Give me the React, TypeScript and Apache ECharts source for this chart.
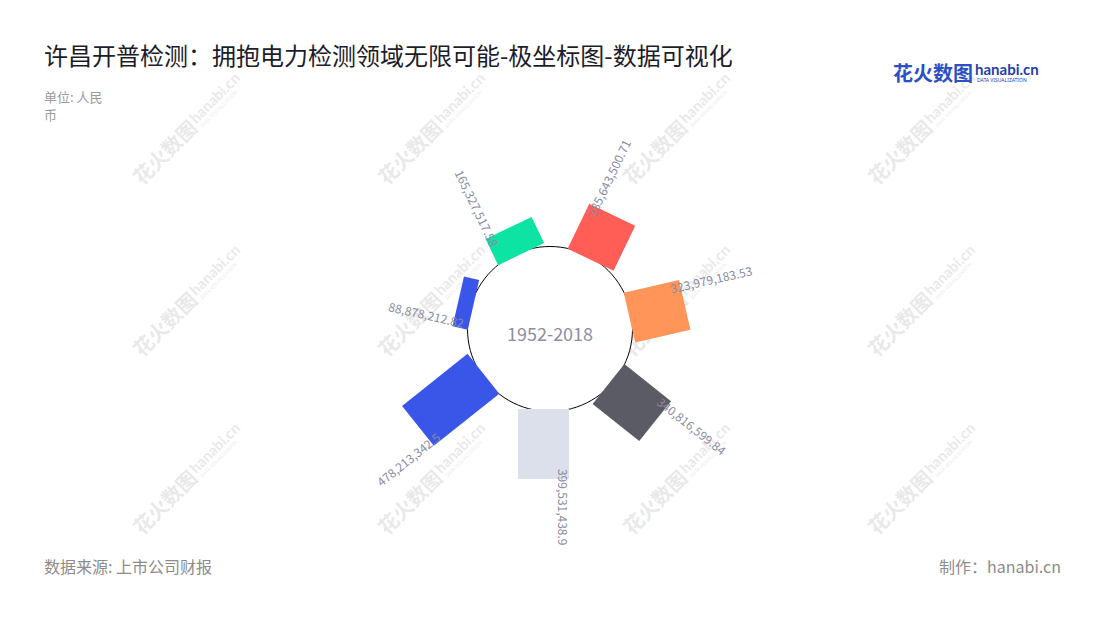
import React, { useEffect, useRef } from 'react';
import * as echarts from 'echarts';

const TITLE = '许昌开普检测：拥抱电力检测领域无限可能-极坐标图-数据可视化';
const UNIT = '单位: 人民币';
const SOURCE = '数据来源: 上市公司财报';
const MAKER = '制作：hanabi.cn';
const CENTER_LABEL = '1952-2018';

const categories = ['项目1', '项目2', '项目3', '项目4', '项目5', '项目6', '项目7'];
const values = [285643500.71, 323979183.53, 340816599.84, 399531438.9, 478213342.5, 88878212.82, 165327517.58];
const colors = ['#FF5E57', '#FF9559', '#5B5B66', '#DCE0EA', '#3A56E9', '#3A56E9', '#0DE3A3'];
const radiusMax = 600000000;

const FONT = '"Noto Sans CJK SC", "Noto Sans", sans-serif';
const LABEL_COLOR = '#8a8ba0';

function logoGroup(x: number, y: number, rotation: number, watermark: boolean, z: number) {
  const c1 = watermark ? '#d6d6d6' : '#2b4fc4';
  const c2 = watermark ? '#d6d6d6' : '#1f3fae';
  const opacity = watermark ? 0.55 : 1;
  return {
    type: 'group',
    x,
    y,
    rotation,
    z,
    silent: true,
    children: [
      {
        type: 'text',
        x: 0,
        y: 0,
        style: { text: '花火数图', fontSize: 20, fontWeight: 'bold', fontFamily: FONT, fill: c1, opacity, verticalAlign: 'middle', align: 'left' },
      },
      {
        type: 'text',
        x: 82,
        y: -3,
        style: { text: 'hanabi.cn', fontSize: 15, fontWeight: 'bold', fontFamily: 'Lato, "Noto Sans", sans-serif', fill: c2, opacity, verticalAlign: 'middle', align: 'left' },
      },
      {
        type: 'text',
        x: 84,
        y: 8,
        style: { text: 'DATA VISUALIZATION', fontSize: 5, fontFamily: '"Noto Sans", sans-serif', fill: c2, opacity, verticalAlign: 'middle', align: 'left' },
      },
    ],
  };
}

export default function App() {
  const ref = useRef<HTMLDivElement>(null);

  useEffect(() => {
    document.body.style.margin = '0';
    if (!ref.current) return;
    const chart = echarts.init(ref.current, undefined, { renderer: 'svg' });

    const watermarks: any[] = [];
    const wx = [136, 381, 626, 871];
    const wy = [180, 352, 530];
    wy.forEach((yy) => wx.forEach((xx) => watermarks.push(logoGroup(xx, yy, Math.PI / 4, true, 0))));

    const option: any = {
      animation: false,
      backgroundColor: '#ffffff',
      title: [
        { text: TITLE, left: 44, top: 42, padding: 0, textStyle: { fontSize: 24, fontWeight: 'normal', color: '#1c1c2b', fontFamily: FONT } },
        { text: UNIT, left: 44, top: 87, padding: 0, textStyle: { fontSize: 13, fontWeight: 'normal', color: '#9a9a9a', fontFamily: FONT, width: 68, overflow: 'break', lineHeight: 18 } },
        { text: SOURCE, left: 44, top: 558, padding: 0, textStyle: { fontSize: 16, fontWeight: 'normal', color: '#8c8c8c', fontFamily: FONT } },
        { text: MAKER, right: 39, top: 558, padding: 0, textStyle: { fontSize: 16, fontWeight: 'normal', color: '#8c8c8c', fontFamily: FONT } },
      ],
      polar: { center: [550, 329], radius: [80, 185] },
      radiusAxis: {
        type: 'value',
        min: 0,
        max: radiusMax,
        axisLine: { show: false },
        axisTick: { show: false },
        axisLabel: { show: false },
        splitLine: { show: false },
      },
      angleAxis: {
        type: 'category',
        data: categories,
        startAngle: 90,
        clockwise: true,
        axisLine: { show: false },
        axisTick: { show: false },
        axisLabel: { show: false },
        splitLine: { show: false },
      },
      graphic: [
        ...watermarks,
        logoGroup(893, 72, 0, false, 10),
        {
          type: 'circle',
          z: 1,
          shape: { cx: 550, cy: 329, r: 82.5 },
          style: { fill: '#ffffff', stroke: '#000000', lineWidth: 1 },
        },
        {
          type: 'text',
          z: 5,
          x: 550,
          y: 333,
          style: { text: CENTER_LABEL, fontSize: 18, fontFamily: FONT, fill: '#8e8ea3', align: 'center', verticalAlign: 'middle' },
        },
      ],
      series: [
        {
          type: 'custom',
          coordinateSystem: 'polar',
          z: 3,
          data: values.map((v, i) => [v, i]),
          encode: { radius: 0, angle: 1 },
          renderItem: (params: any, api: any) => {
            const cs = params.coordSys;
            const idx = api.value(1);
            const v = api.value(0);
            const p0 = api.coord([0, idx]);
            const p1 = api.coord([v, idx]);
            const th = Math.atan2(-(p0[1] - cs.cy), p0[0] - cs.cx);
            const L = Math.hypot(p1[0] - p0[0], p1[1] - p0[1]);
            const ux = Math.cos(th), uy = -Math.sin(th);
            const vx = Math.sin(th), vy = Math.cos(th);
            const along = L - 10;
            const side = -13;
            const lx = p0[0] + along * ux + side * vx;
            const ly = p0[1] + along * uy + side * vy;
            const flip = Math.cos(th) < -0.01;
            const text = values[idx].toLocaleString('en-US', { maximumFractionDigits: 2 });
            return {
              type: 'group',
              children: [
                {
                  type: 'rect',
                  x: p0[0],
                  y: p0[1],
                  rotation: th,
                  shape: { x: 0, y: -19, width: L, height: 51 },
                  style: { fill: colors[idx] },
                },
                {
                  type: 'text',
                  x: lx,
                  y: ly,
                  rotation: flip ? th + Math.PI : th,
                  style: {
                    text,
                    fill: LABEL_COLOR,
                    fontSize: 12,
                    fontFamily: FONT,
                    align: flip ? 'right' : 'left',
                    verticalAlign: 'middle',
                  },
                },
              ],
            };
          },
        },
      ],
    };

    chart.setOption(option);
    return () => chart.dispose();
  }, []);

  return <div ref={ref} style={{ width: 1100, height: 620 }} />;
}
